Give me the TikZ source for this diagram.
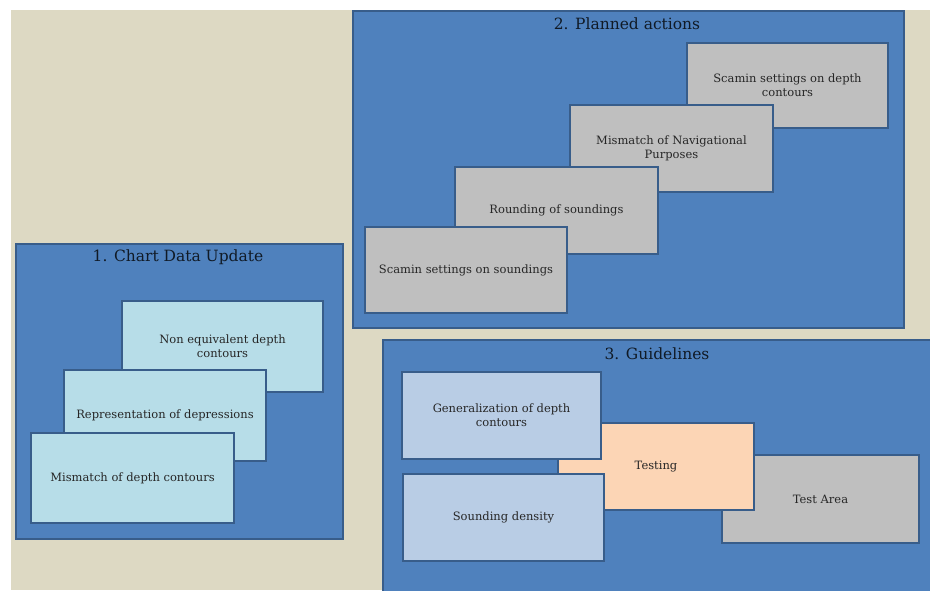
\documentclass[tikz,border=0pt]{standalone}
\usepackage{fontspec}
\setmainfont{DejaVu Serif}
\definecolor{bgbeige}{HTML}{DDD9C3}
\definecolor{panelblue}{HTML}{4F81BD}
\definecolor{edgeblue}{HTML}{385D8A}
\definecolor{lblue}{HTML}{B7DDE8}
\definecolor{lgray}{HTML}{BFBFBF}
\definecolor{sblue}{HTML}{B9CDE5}
\definecolor{peach}{HTML}{FCD5B5}
\definecolor{boxtext}{HTML}{262626}
\definecolor{titletext}{HTML}{101A26}
\tikzset{
  panel/.style={draw=edgeblue, fill=panelblue, line width=2pt, anchor=north west, inner sep=0pt},
  itembox/.style={draw=edgeblue, line width=2pt, anchor=north west, inner sep=2pt, align=center,
    text=boxtext, font=\fontsize{11.5}{14}\selectfont},
  paneltitle/.style={text=titletext, font=\fontsize{15.5}{18}\selectfont, inner sep=0pt}
}
\newcommand\mybox[7]{%
  \node[itembox, fill=#2, minimum width=#5-#3, minimum height=#6-#4] (#1) at (#3,#4) {#7};}
\begin{document}
\begin{tikzpicture}[x=1pt,y=-1pt]
\useasboundingbox (0,0) rectangle (930,590);
\clip (0,0) rectangle (930,590);
\fill[bgbeige] (11,10) rectangle (930,590);
% panels
\node[panel, minimum width=327, minimum height=295] (p1) at (15,243) {};
\node[panel, minimum width=551, minimum height=317] (p2) at (352,10) {};
\node[panel, minimum width=580, minimum height=290] (p3) at (382,339) {};
\node[paneltitle] (t1) at (178,257) {1. Chart Data Update};
\node[paneltitle] (t2) at (627,24) {2. Planned actions};
\node[paneltitle] (t3) at (657,354) {3. Guidelines};
% panel 1
\mybox{a1}{lblue}{121}{300}{322}{391}{Non equivalent depth\\contours}
\mybox{a2}{lblue}{63}{369}{265}{460}{Representation of depressions}
\mybox{a3}{lblue}{30}{432}{233}{522}{Mismatch of depth contours}
% panel 2
\mybox{b1}{lgray}{686}{42}{887}{127}{Scamin settings on depth\\contours}
\mybox{b2}{lgray}{569}{104}{772}{191}{Mismatch of Navigational\\Purposes}
\mybox{b3}{lgray}{454}{166}{657}{253}{Rounding of soundings}
\mybox{b4}{lgray}{364}{226}{566}{312}{Scamin settings on soundings}
% panel 3
\mybox{c4}{lgray}{721}{454}{918}{542}{Test Area}
\mybox{c3}{peach}{557}{422}{753}{509}{Testing}
\mybox{c1}{sblue}{401}{371}{600}{458}{Generalization of depth\\contours}
\mybox{c2}{sblue}{402}{473}{603}{560}{Sounding density}
\end{tikzpicture}
\end{document}
